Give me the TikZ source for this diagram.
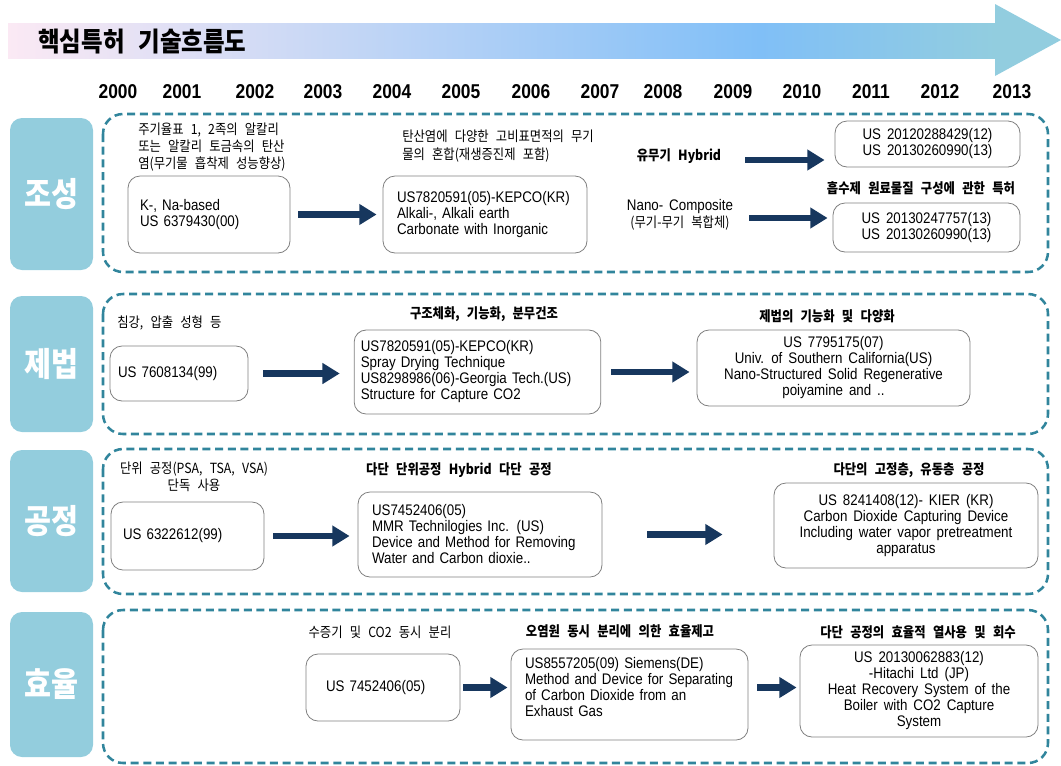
\documentclass[tikz,border=0pt]{standalone}
\usepackage{fontspec}
\setmainfont[FakeStretch=0.87,WordSpace=1.6]{Liberation Sans}
\newfontfamily\kr[FakeStretch=0.88,WordSpace=2.6]{Noto Sans CJK KR}
\usetikzlibrary{arrows.meta,positioning,calc}
\definecolor{tealfill}{HTML}{93CDDD}
\definecolor{tealdash}{HTML}{31859C}
\definecolor{navy}{HTML}{17375E}
\definecolor{boxgray}{HTML}{7F7F7F}
\definecolor{bandpink}{HTML}{FBE9F4}
\definecolor{bandblue}{HTML}{80BFF7}
\definecolor{bandend}{HTML}{92CDDF}
\begin{document}
\begin{tikzpicture}[x=0.75pt,y=-0.75pt,
    rowlbl/.style={fill=tealfill,rounded corners=9pt,minimum width=62.25pt,text=white,font=\kr\bfseries\fontsize{25}{27}\selectfont},
    frame/.style={draw=tealdash,line width=1.9pt,dash pattern=on 6pt off 3.5pt,rounded corners=15pt},
    pat/.style={draw=boxgray,line width=0.6pt,rounded corners=9pt,font=\fontsize{11.5}{12}\selectfont},
    note/.style={inner sep=0pt,font=\kr\fontsize{10.5}{13}\selectfont},
    head/.style={inner sep=0pt,font=\kr\bfseries\fontsize{10.5}{12}\selectfont},
    yearlbl/.style={font=\bfseries\fontsize{15}{16}\selectfont},
    flow/.style={draw=navy,line width=5pt,-{Triangle[length=13pt,width=15pt]}}]
\useasboundingbox (0,0) rectangle (1061,765);
% title band
\shade[left color=bandpink,right color=bandblue] (8,23) rectangle (760,58);
\shade[left color=bandblue,right color=bandend] (759,23) rectangle (996,58);
\fill[bandend] (995,4) -- (1061,40) -- (995,76) -- cycle;
\node[font=\kr\bfseries\fontsize{20}{22}\selectfont,anchor=west,inner sep=0pt] (title) at (38,42) {핵심특허 기술흐름도};
% years
\foreach \yr/\xp in {2000/118,2001/182,2002/255,2003/323,2004/392,2005/461,2006/531,
    2007/600,2008/663,2009/733,2010/802,2011/871,2012/940,2013/1012}
  \node[yearlbl] (y\yr) at (\xp,92) {\yr};
% frames
\draw[frame] (103,114) rectangle (1048,272);
\draw[frame] (103,294) rectangle (1048,434);
\draw[frame] (103,449) rectangle (1048,594);
\draw[frame] (103,610) rectangle (1048,763);
\node[rowlbl,minimum height=114pt] (r1) at (51.5,194) {조성};
\node[rowlbl,minimum height=102pt] (r2) at (51.5,364) {제법};
\node[rowlbl,minimum height=106.5pt] (r3) at (51.5,521) {공정};
\node[rowlbl,minimum height=108.75pt] (r4) at (51.5,684.5) {효율};

% 조성
\node[note,anchor=west,align=left] (t1) at (138,147) {주기율표 1, 2족의 알칼리\\또는 알칼리 토금속의 탄산\\염(무기물 흡착제 성능향상)};
\node[pat,text width=103.5pt,inner xsep=9pt,minimum height=57.75pt,align=left] (b1) at (209,214.5) {K-, Na-based\\US 6379430(00)};
\node[note,anchor=west,align=left] (t2) at (402,146) {탄산염에 다양한 고비표면적의 무기\\물의 혼합(재생증진제 포함)};
\node[pat,text width=132pt,inner xsep=10.5pt,minimum height=57.75pt,align=left] (b2) at (485,214.5) {US7820591(05)-KEPCO(KR)\\Alkali-, Alkali earth\\Carbonate with Inorganic};
\node[head] (hyb) at (679,156) {유무기 Hybrid};
\node[note,align=center] (nano) at (680,215) {{\rmfamily\fontsize{11.5}{12}\selectfont Nano- Composite}\\(무기-무기 복합체)};
\node[pat,minimum width=138.75pt,minimum height=34.5pt,align=center] (b3) at (927.5,144) {US 20120288429(12)\\US 20130260990(13)};
\node[head] (t3) at (921,188) {흡수제 원료물질 구성에 관한 특허};
\node[pat,minimum width=140.25pt,minimum height=36.75pt,align=center] (b4) at (926.5,227.5) {US 20130247757(13)\\US 20130260990(13)};
\draw[flow,shorten <=6pt,shorten >=4.5pt] (b1.east) -- (b2.west);
\draw[flow] ($(hyb.east)+(24,4)$) -- ($(hyb.east -| b3.west)+(-10,4)$);
\draw[flow] ($(nano.east)+(16,3)$) -- ($(nano.east -| b4.west)+(-5,3)$);

% 제법
\node[note,anchor=west] (t4) at (117,323) {침강, 압출 성형 등};
\node[pat,text width=91.5pt,inner xsep=6pt,minimum height=41.25pt,align=left] (c1) at (179,373.5) {US 7608134(99)};
\node[head] (t5) at (484,314) {구조체화, 기능화, 분무건조};
\node[pat,text width=175pt,inner xsep=5pt,minimum height=63pt,align=left] (c2) at (477.5,372) {US7820591(05)-KEPCO(KR)\\Spray Drying Technique\\US8298986(06)-Georgia Tech.(US)\\Structure for Capture CO2};
\node[head] (t6) at (827,316) {제법의 기능화 및 다양화};
\node[pat,minimum width=204.75pt,minimum height=57pt,align=center] (c3) at (833.5,368) {US 7795175(07)\\Univ. of Southern California(US)\\Nano-Structured Solid Regenerative\\poiyamine and ..};
\draw[flow,shorten <=11pt,shorten >=10.5pt] (c1.east) -- (c1.east -| c2.west);
\draw[flow,shorten <=7.5pt,shorten >=5.25pt] (c2.east) -- (c2.east -| c3.west);

% 공정
\node[note,align=center] (t7) at (194,477) {단위 공정(PSA, TSA, VSA)\\단독 사용};
\node[pat,text width=96.75pt,inner xsep=9pt,minimum height=51pt,align=left] (d1) at (187.5,536) {US 6322612(99)};
\node[head] (t8) at (459,470) {다단 단위공정 Hybrid 다단 공정};
\node[pat,text width=162pt,inner xsep=10.5pt,minimum height=63.75pt,align=left] (d2) at (480,534.5) {US7452406(05)\\MMR Technilogies Inc. (US)\\Device and Method for Removing\\Water and Carbon dioxie..};
\node[head] (t9) at (909,470) {다단의 고정층, 유동층 공정};
\node[pat,minimum width=198pt,minimum height=63.75pt,align=center] (d3) at (906,525.5) {US 8241408(12)- KIER (KR)\\Carbon Dioxide Capturing Device\\Including water vapor pretreatment\\apparatus};
\draw[flow,shorten <=6.75pt,shorten >=6pt] (d1.east) -- (d1.east -| d2.west);
\draw[flow,shorten <=33.75pt,shorten >=38.25pt] (d2.east) -- (d2.east -| d3.west);

% 효율
\node[note] (t10) at (380,632) {수증기 및 CO2 동시 분리};
\node[pat,text width=85.5pt,inner xsep=15pt,minimum height=50.25pt,align=left] (e1) at (383,687.5) {US 7452406(05)};
\node[head] (t11) at (620,631) {오염원 동시 분리에 의한 효율제고};
\node[pat,text width=156.75pt,inner xsep=10.5pt,minimum height=68.25pt,align=left] (e2) at (629.5,694.5) {US8557205(09) Siemens(DE)\\Method and Device for Separating\\of Carbon Dioxide from an\\Exhaust Gas\\\mbox{}};
\node[head] (t12) at (918,632) {다단 공정의 효율적 열사용 및 회수};
\node[pat,minimum width=178.5pt,minimum height=69pt,align=center] (e3) at (919,691) {US 20130062883(12)\\-Hitachi Ltd (JP)\\Heat Recovery System of the\\Boiler with CO2 Capture\\System};
\draw[flow,shorten <=2.25pt,shorten >=2.25pt] (e1.east) -- (e1.east -| e2.west);
\draw[flow,shorten <=6.75pt,shorten >=2.25pt] (e1.east -| e2.east) -- (e1.east -| e3.west);
\end{tikzpicture}
\end{document}
